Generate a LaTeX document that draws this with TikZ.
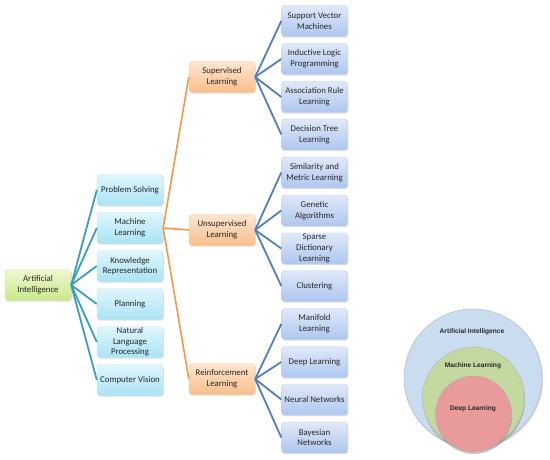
\documentclass[tikz,border=0pt]{standalone}
\usepackage{fontspec}
\newfontfamily\boxfont{Carlito}
\newfontfamily\circfont{Liberation Sans}
\usetikzlibrary{shadows}
\definecolor{tealline}{HTML}{3B9EBE}
\definecolor{orangeline}{HTML}{F79646}
\definecolor{blueline}{HTML}{4F7FBE}
\definecolor{gTop}{HTML}{EEF8CF}
\definecolor{gBot}{HTML}{C9E88A}
\definecolor{cTop}{HTML}{E0F6FD}
\definecolor{cBot}{HTML}{A9E3F4}
\definecolor{oTop}{HTML}{FEE6CF}
\definecolor{oBot}{HTML}{F9BE8B}
\definecolor{bTop}{HTML}{E0E9F9}
\definecolor{bBot}{HTML}{AEC6EF}
\definecolor{circA}{HTML}{C9DCF0}
\definecolor{circB}{HTML}{C3D9A0}
\definecolor{circC}{HTML}{E99A9A}
\tikzset{
  basebox/.style={rounded corners=3pt, minimum width=66pt, minimum height=31pt,
    inner sep=1pt, align=center,
    font=\boxfont\fontsize{8.8}{10.6}\selectfont, text=black!85,
    drop shadow={shadow xshift=0.8pt, shadow yshift=-1.2pt, opacity=0.25}},
  greenbox/.style={basebox, draw=gBot!80!white, top color=gTop, bottom color=gBot},
  cyanbox/.style={basebox, draw=cBot!80!white, top color=cTop, bottom color=cBot},
  orangebox/.style={basebox, draw=oBot!80!white, top color=oTop, bottom color=oBot},
  bluebox/.style={basebox, draw=bBot!80!white, top color=bTop, bottom color=bBot},
  tline/.style={tealline, line width=1.8pt},
  oline/.style={orangeline, line width=1.6pt},
  bline/.style={blueline, line width=1.8pt},
  circlabel/.style={font=\circfont\bfseries\fontsize{6.6}{7.5}\selectfont, text=black!85},
}
\begin{document}
\begin{tikzpicture}[x=1pt,y=-1pt]
\useasboundingbox (0,0) rectangle (550,460);
% root
\node[greenbox] (ai) at (38,285) {Artificial\\Intelligence};
% level 1
\node[cyanbox] (ps) at (130,190) {Problem Solving};
\node[cyanbox] (ml) at (130,228) {Machine\\Learning};
\node[cyanbox] (kr) at (130,266) {Knowledge\\Representation};
\node[cyanbox] (pl) at (130,304) {Planning};
\node[cyanbox] (nlp) at (130,342) {Natural\\Language\\Processing};
\node[cyanbox] (cv) at (130,380) {Computer Vision};
% level 2
\node[orangebox] (sl) at (222,77) {Supervised\\Learning};
\node[orangebox] (ul) at (222,230) {Unsupervised\\Learning};
\node[orangebox] (rl) at (222,379) {Reinforcement\\Learning};
% level 3
\node[bluebox] (svm) at (314.5,21) {Support Vector\\Machines};
\node[bluebox] (ilp) at (314.5,59) {Inductive Logic\\Programming};
\node[bluebox] (arl) at (314.5,97) {Association Rule\\Learning};
\node[bluebox] (dtl) at (314.5,134.5) {Decision Tree\\Learning};
\node[bluebox] (sml) at (314.5,172.5) {Similarity and\\Metric Learning};
\node[bluebox] (ga) at (314.5,210.5) {Genetic\\Algorithms};
\node[bluebox] (sdl) at (314.5,248.5) {Sparse\\Dictionary\\Learning};
\node[bluebox] (cl) at (314.5,286) {Clustering};
\node[bluebox] (mfl) at (314.5,324) {Manifold\\Learning};
\node[bluebox] (dl) at (314.5,362) {Deep Learning};
\node[bluebox] (nn) at (314.5,399.5) {Neural Networks};
\node[bluebox] (bn) at (314.5,437.5) {Bayesian\\Networks};
% connectors
\foreach \t in {ps,ml,kr,pl,nlp,cv} \draw[tline] (ai.east) -- (\t.west);
\foreach \t in {sl,ul,rl} \draw[oline] (ml.east) -- (\t.west);
\foreach \t in {svm,ilp,arl,dtl} \draw[bline] (sl.east) -- (\t.west);
\foreach \t in {sml,ga,sdl,cl} \draw[bline] (ul.east) -- (\t.west);
\foreach \t in {mfl,dl,nn,bn} \draw[bline] (rl.east) -- (\t.west);
% nested circles
\node[circle, minimum size=138pt, fill=circA, draw=gray!60, line width=0.4pt,
  drop shadow={shadow xshift=1pt, shadow yshift=-1.5pt, opacity=0.3}] (cA) at (473,378) {};
\node[circle, minimum size=102pt, fill=circB, draw=gray!60, line width=0.4pt,
  drop shadow={shadow xshift=0.5pt, shadow yshift=-2pt, opacity=0.45}] (cB) at (473.5,398) {};
\node[circle, minimum size=76pt, fill=circC, draw=gray!60, line width=0.4pt,
  drop shadow={shadow xshift=0.5pt, shadow yshift=-2pt, opacity=0.45}] (cC) at (473.5,414) {};
\node[circlabel] (tA) at (472,332) {Artificial Intelligence};
\node[circlabel] (tB) at (473,366) {Machine Learning};
\node[circlabel] (tC) at (473,409) {Deep Learning};
\end{tikzpicture}
\end{document}
